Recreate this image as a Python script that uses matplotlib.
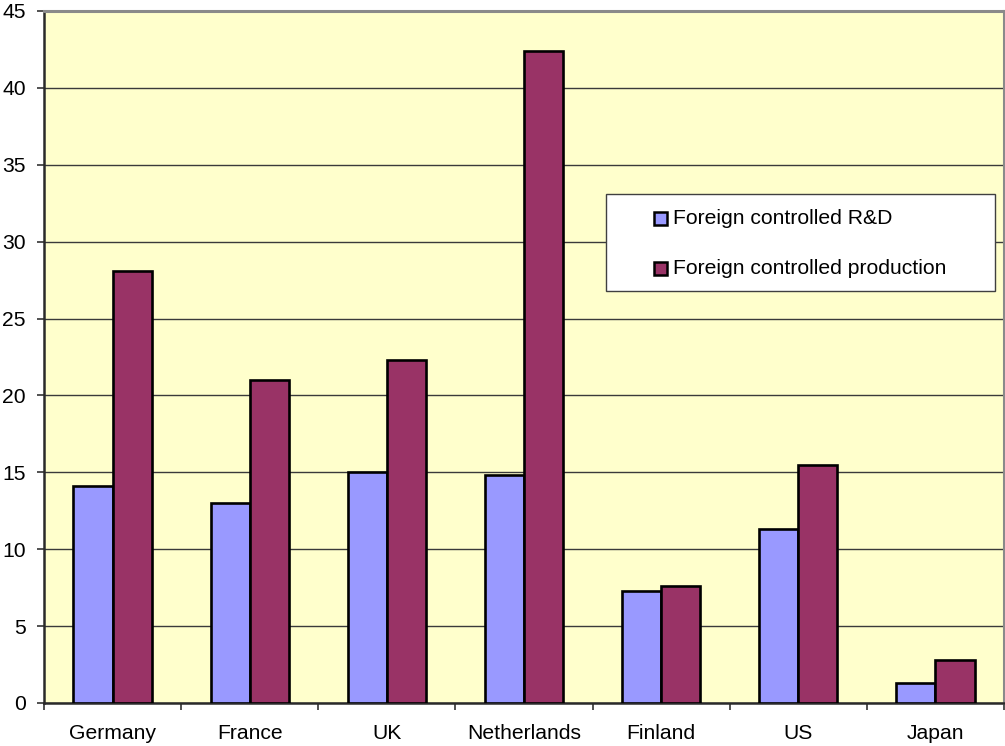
import matplotlib
matplotlib.use("Agg")
import matplotlib.pyplot as plt
from matplotlib.patches import Rectangle
import numpy as np

plt.rcParams['font.family'] = ['Liberation Sans', 'DejaVu Sans']

countries = ["Germany", "France", "UK", "Netherlands", "Finland", "US", "Japan"]
rd_share = [14.1, 13.0, 15.0, 14.8, 7.3, 11.3, 1.3]
production_share = [28.1, 21.0, 22.3, 42.4, 7.6, 15.5, 2.8]
series_labels = ["Foreign controlled R&D", "Foreign controlled production"]
y_ticks = [0, 5, 10, 15, 20, 25, 30, 35, 40, 45]

RD_COLOR = "#9999FF"
PROD_COLOR = "#993366"
FONT_SIZE = 15.2

W, H = 1005, 746
fig = plt.figure(figsize=(W / 100, H / 100), dpi=100)
fig.patch.set_facecolor("white")

# axes box in pixels: left 44, right 1004, top 11, bottom 703
ax_left, ax_right, ax_top, ax_bottom = 44, 1004, 11, 703
ax = fig.add_axes([ax_left / W, (H - ax_bottom) / H,
                   (ax_right - ax_left) / W, (ax_bottom - ax_top) / H])
ax.set_facecolor("#FFFFCC")

x = np.arange(len(countries))
bar_w = 1 / 3.5
ax.bar(x - bar_w / 2, rd_share, width=bar_w, color=RD_COLOR,
       edgecolor="black", linewidth=1.9, zorder=3)
ax.bar(x + bar_w / 2, production_share, width=bar_w, color=PROD_COLOR,
       edgecolor="black", linewidth=1.9, zorder=3)

ax.set_xlim(-0.5, len(countries) - 0.5)
ax.set_ylim(0, 45)
ax.set_yticks(y_ticks)
ax.set_yticklabels([str(t) for t in y_ticks])
ax.yaxis.grid(True, color="#3a3a3a", linewidth=1.0, zorder=1)
ax.set_axisbelow(True)

# category labels centred, tick marks on category boundaries
ax.set_xticks(x)
ax.set_xticklabels(countries)
ax.tick_params(axis="x", which="major", length=0, pad=15, labelsize=FONT_SIZE)
ax.set_xticks(np.arange(len(countries) + 1) - 0.5, minor=True)
ax.tick_params(axis="x", which="minor", length=5, width=1.2, direction="out",
               color="#333333")
ax.tick_params(axis="y", length=5, width=1.2, direction="out", pad=8,
               color="#333333", labelsize=FONT_SIZE)

for side in ("left", "bottom"):
    ax.spines[side].set_color("#2a2a2a")
    ax.spines[side].set_linewidth(1.8)
for side in ("top", "right"):
    ax.spines[side].set_color("#8a8a8a")
    ax.spines[side].set_linewidth(2.2)


def px_to_axes(px, py):
    return ((px - ax_left) / (ax_right - ax_left),
            (ax_bottom - py) / (ax_bottom - ax_top))


# legend box
bx0, by0 = px_to_axes(606, 291)
bx1, by1 = px_to_axes(995, 194)
ax.add_patch(Rectangle((bx0, by0), bx1 - bx0, by1 - by0, transform=ax.transAxes,
                       facecolor="white", edgecolor="#404040", linewidth=1.0,
                       zorder=5))
sq_w = 13 / (ax_right - ax_left)
sq_h = 13 / (ax_bottom - ax_top)
for label, color, cy in zip(series_labels, [RD_COLOR, PROD_COLOR], [218, 268]):
    sx, sy = px_to_axes(654, cy + 6.5)
    ax.add_patch(Rectangle((sx, sy), sq_w, sq_h, transform=ax.transAxes,
                           facecolor=color, edgecolor="black", linewidth=1.8,
                           zorder=6))
    tx, ty = px_to_axes(673, cy)
    ax.text(tx, ty, label, transform=ax.transAxes, fontsize=FONT_SIZE,
            va="center", ha="left", zorder=7)

fig.savefig("out.png", dpi=100, facecolor="white")
